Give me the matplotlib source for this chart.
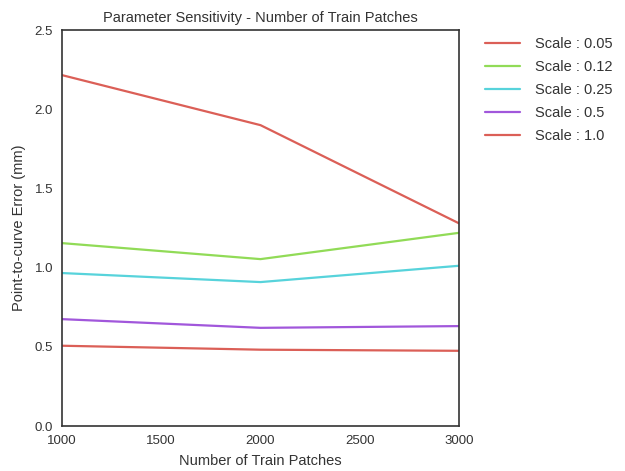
import matplotlib

matplotlib.use("Agg")
import matplotlib.pyplot as plt
import seaborn as sns

sns.set_style("white")
plt.rcParams["font.family"] = ["Liberation Sans", "DejaVu Sans"]

patches = [1000, 2000, 3000]
scale_labels = ["Scale : 0.05", "Scale : 0.12", "Scale : 0.25", "Scale : 0.5", "Scale : 1.0"]
errors = [
    [2.216, 1.90, 1.28],
    [1.155, 1.054, 1.22],
    [0.966, 0.909, 1.012],
    [0.675, 0.62, 0.631],
    [0.507, 0.482, 0.475],
]

colors = sns.hls_palette(4)
colors = colors + [colors[0]]

fig = plt.figure(figsize=(6.25, 4.71), dpi=100)
ax = fig.add_axes([0.0992, 0.0955, 0.6352, 0.8405])
for label, vals, c in zip(scale_labels, errors, colors):
    ax.plot(patches, vals, color=c, lw=1.6, label=label)

ax.set_xlim(1000, 3000)
ax.set_ylim(0, 2.5)
ax.set_xticks([1000, 1500, 2000, 2500, 3000])
ax.set_yticks([0.0, 0.5, 1.0, 1.5, 2.0, 2.5])
ax.tick_params(labelsize=9.5, colors="#333333", pad=3)
for s in ax.spines.values():
    s.set_color("#333333")
    s.set_linewidth(1.2)
ax.set_title("Parameter Sensitivity - Number of Train Patches", fontsize=10.5, color="#333333", pad=6)
ax.set_xlabel("Number of Train Patches", fontsize=10.5, color="#333333", labelpad=5)
ax.set_ylabel("Point-to-curve Error (mm)", fontsize=10.5, color="#333333", labelpad=6)
leg = ax.legend(loc="upper left", bbox_to_anchor=(1.033, 1.015), frameon=False,
                fontsize=10.5, handlelength=2.4, handletextpad=1.0, labelspacing=0.62)
for t in leg.get_texts():
    t.set_color("#333333")

fig.savefig("out.png", dpi=100)
